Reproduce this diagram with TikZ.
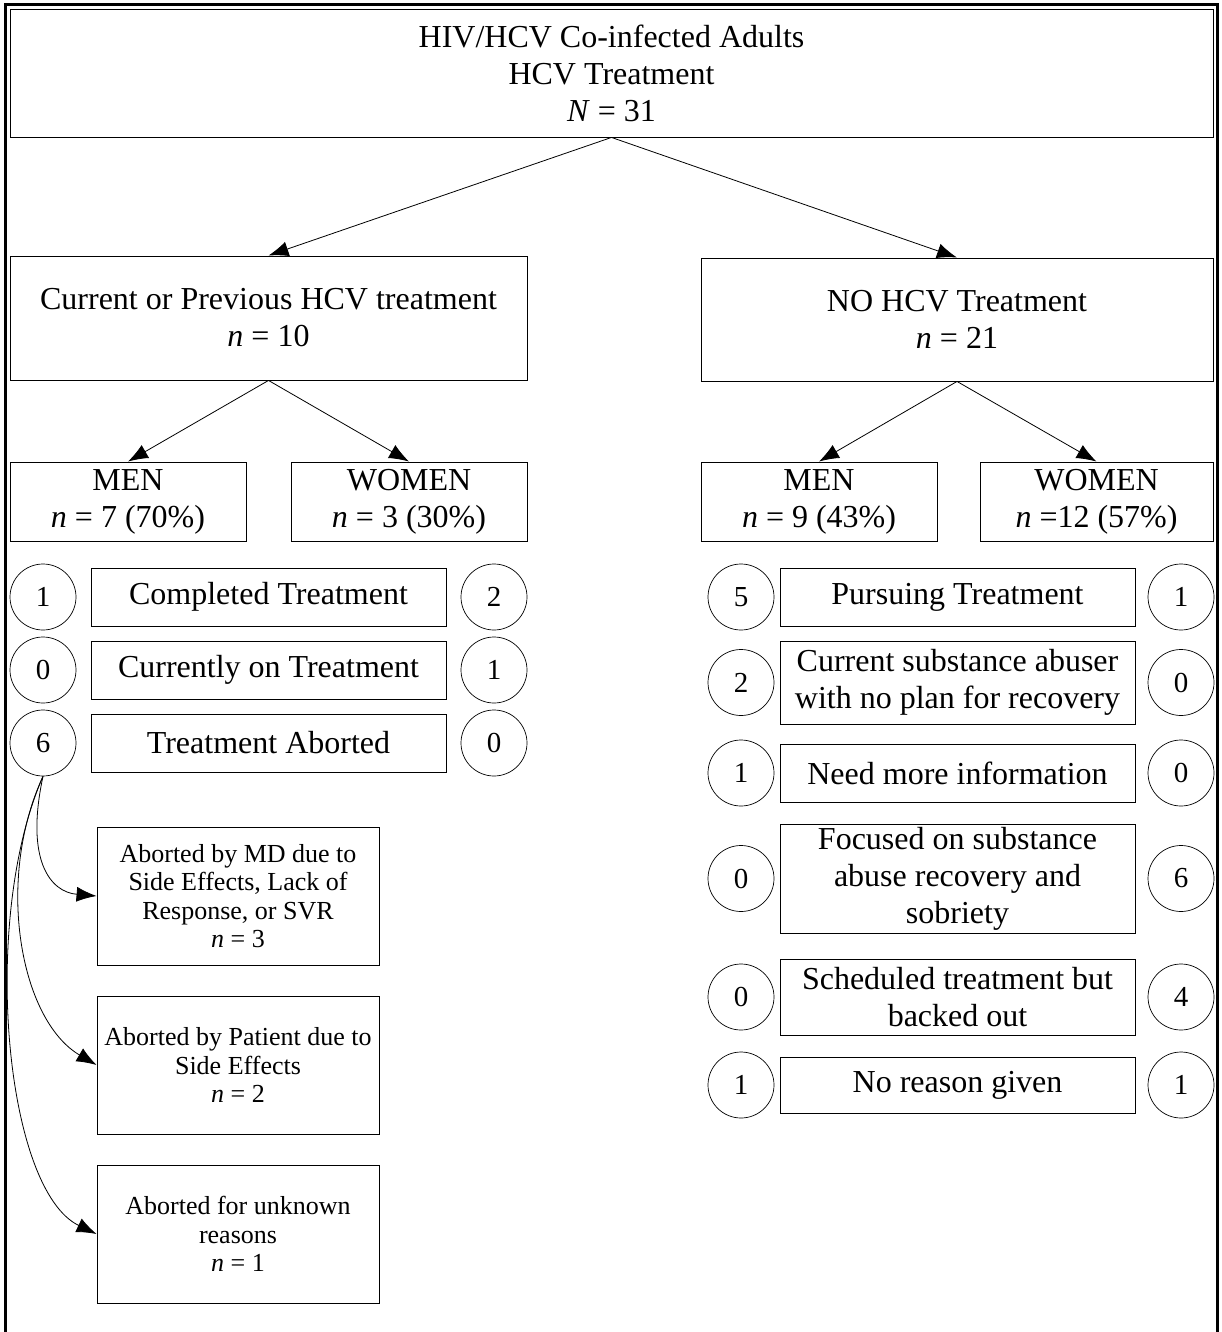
\documentclass[tikz,border=0pt]{standalone}
\usepackage{fontspec}
\setmainfont{Liberation Serif}
\usetikzlibrary{arrows.meta}

\newcommand{\bigtxt}{\fontsize{32}{37}\selectfont}
\newcommand{\smalltxt}{\fontsize{26}{28.5}\selectfont}
\newcommand{\cnttxt}{\fontsize{29}{33}\selectfont}

\tikzset{
  box/.style={draw, line width=0.9pt, align=center, inner sep=0pt, font=\bigtxt},
  row/.style={box, minimum width=355pt, minimum height=58pt},
  cnt/.style={draw, circle, line width=0.7pt, minimum size=66pt, inner sep=0pt, font=\cnttxt},
  note/.style={box, font=\smalltxt, minimum width=282pt, minimum height=138pt},
  link/.style={-{Latex[length=20pt,width=15pt]}, line width=0.8pt}
}

\begin{document}
\begin{tikzpicture}[x=1pt, y=-1pt]
    \useasboundingbox (0,0) rectangle (1222,1332);
    % frame round the chart
    \draw[line width=3pt] (5.5,1332) -- (5.5,4.5) -- (1217.5,4.5) -- (1217.5,1332);

    \node[box, minimum width=1203pt, minimum height=128pt] (all) at (611.5,73)
	{HIV/HCV Co-infected Adults\\HCV Treatment\\\textit{N} = 31};
    \node[box, minimum width=517pt, minimum height=124pt] (prev) at (268.5,318)
	{Current or Previous HCV treatment\\\textit{n} = 10};
    \node[box, minimum width=512pt, minimum height=123pt] (none) at (957,319.5)
	{NO HCV Treatment\\\textit{n} = 21};
    \draw[link] (all.south) -- (prev.north);
    \draw[link] (all.south) -- (none.north);

    % men / women
    \node[box, minimum width=236pt, minimum height=79pt] (prevM) at (128,501.5) {MEN\\\textit{n} = 7 (70\%)};
    \node[box, minimum width=236pt, minimum height=79pt] (prevW) at (409,501.5) {WOMEN\\\textit{n} = 3 (30\%)};
    \node[box, minimum width=236pt, minimum height=79pt] (noneM) at (819,501.5) {MEN\\\textit{n} = 9 (43\%)};
    \node[box, minimum width=233pt, minimum height=79pt] (noneW) at (1096.5,501.5) {WOMEN\\\textit{n} =12 (57\%)};
    \draw[link] (prev.south) -- (prevM.north);
    \draw[link] (prev.south) -- (prevW.north);
    \draw[link] (none.south) -- (noneM.north);
    \draw[link] (none.south) -- (noneW.north);

    % treated: men left, women right
    \node[row] (cmp) at (268.5,597) {Completed Treatment};
    \node[cnt] (cmpM) at (43,597) {1};
    \node[cnt] (cmpW) at (494,597) {2};
    \node[row] (cur) at (268.5,670) {Currently on Treatment};
    \node[cnt] (curM) at (43,670) {0};
    \node[cnt] (curW) at (494,670) {1};
    \node[row] (abt) at (268.5,743) {Treatment Aborted};
    \node[cnt] (abtM) at (43,743) {6};
    \node[cnt] (abtW) at (494,743) {0};

    % why aborted
    \node[note] (ab1) at (238,896) {Aborted by MD due to\\Side Effects, Lack of\\Response, or SVR\\\textit{n} = 3};
    \node[note] (ab2) at (238,1065) {Aborted by Patient due to\\Side Effects\\\textit{n} = 2};
    \node[note] (ab3) at (238,1234) {Aborted for unknown\\reasons\\\textit{n} = 1};
    \draw[link] (abtM.south) .. controls (25,860) and (50,892) .. (ab1.west);
    \draw[link] (abtM.south) .. controls (-5,880) and (20,1020) .. (ab2.west);
    \draw[link] (abtM.south) .. controls (-20,920) and (5,1190) .. (ab3.west);

    % not treated
    \node[row] (pur) at (957.5,597) {Pursuing Treatment};
    \node[cnt] (purM) at (741,597) {5};
    \node[cnt] (purW) at (1181,597) {1};
    \node[row, minimum height=83pt] (sub) at (957.5,682.5) {Current substance abuser\\with no plan for recovery};
    \node[cnt] (subM) at (741,682.5) {2};
    \node[cnt] (subW) at (1181,682.5) {0};
    \node[row] (inf) at (957.5,773) {Need more information};
    \node[cnt] (infM) at (741,773) {1};
    \node[cnt] (infW) at (1181,773) {0};
    \node[row, minimum height=109pt] (foc) at (957.5,878.5) {Focused on substance\\abuse recovery and\\sobriety};
    \node[cnt] (focM) at (741,878.5) {0};
    \node[cnt] (focW) at (1181,878.5) {6};
    \node[row, minimum height=76pt] (sch) at (957.5,997) {Scheduled treatment but\\backed out};
    \node[cnt] (schM) at (741,997) {0};
    \node[cnt] (schW) at (1181,997) {4};
    \node[row, minimum height=56pt] (nor) at (957.5,1085) {No reason given};
    \node[cnt] (norM) at (741,1085) {1};
    \node[cnt] (norW) at (1181,1085) {1};
\end{tikzpicture}
\end{document}
